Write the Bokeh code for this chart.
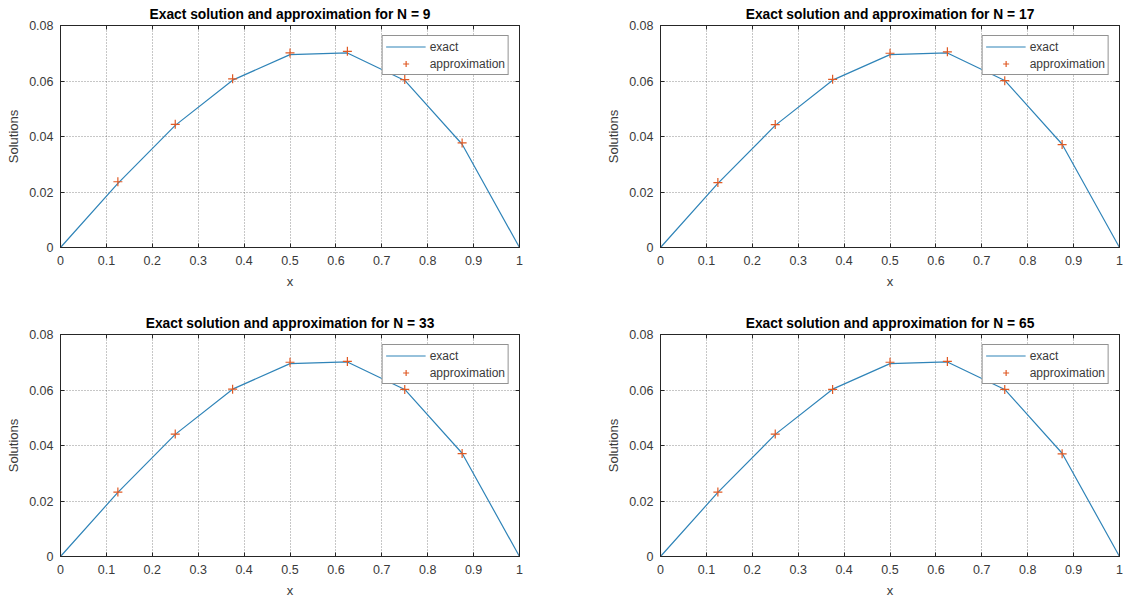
from bokeh.plotting import figure
from bokeh.layouts import column, row
from bokeh.models import LinearAxis, Range1d, FixedTicker, Legend, LegendItem
from bokeh.embed import file_html
from bokeh.resources import INLINE

x_nodes = [0, 0.125, 0.25, 0.375, 0.5, 0.625, 0.75, 0.875, 1.0]
exact = [0, 0.0231, 0.0440, 0.0603, 0.0695, 0.0701, 0.0602, 0.0372, 0]
approx_N9 = [0, 0.0237, 0.0444, 0.0608, 0.0701, 0.0707, 0.0605, 0.0377, 0]
approx_N17 = [0, 0.0234, 0.0443, 0.0606, 0.0700, 0.0705, 0.0601, 0.0371, 0]
approx_N33 = [0, 0.0232, 0.0441, 0.0603, 0.0700, 0.0703, 0.0602, 0.0371, 0]
approx_N65 = [0, 0.0232, 0.0441, 0.0602, 0.0700, 0.0703, 0.0602, 0.0370, 0]
N_values = [9, 17, 33, 65]
x_ticks = [0, 0.1, 0.2, 0.3, 0.4, 0.5, 0.6, 0.7, 0.8, 0.9, 1.0]
x_tick_labels = {0: "0", 0.1: "0.1", 0.2: "0.2", 0.3: "0.3", 0.4: "0.4", 0.5: "0.5",
                 0.6: "0.6", 0.7: "0.7", 0.8: "0.8", 0.9: "0.9", 1.0: "1"}
y_ticks = [0, 0.02, 0.04, 0.06, 0.08]
y_tick_labels = {0: "0", 0.02: "0.02", 0.04: "0.04", 0.06: "0.06", 0.08: "0.08"}

FONT = "Liberation Sans"
LINE_C = "#2f84b8"
MARK_C = "#e05a24"
AX_C = "#262626"
LBL_C = "#3a3a3a"


def style_axis(ax, show_labels=True):
    ax.axis_line_color = AX_C
    ax.major_tick_line_color = AX_C
    ax.minor_tick_line_color = None
    ax.major_tick_in = 4
    ax.major_tick_out = 0
    ax.major_label_text_font = FONT
    ax.major_label_text_font_size = "12.5px"
    ax.major_label_text_color = LBL_C
    ax.axis_label_text_font = FONT
    ax.axis_label_text_font_size = "13px"
    ax.axis_label_text_font_style = "normal"
    ax.axis_label_text_color = LBL_C
    if not show_labels:
        ax.major_label_text_alpha = 0
        ax.major_label_text_font_size = "0px"


def make(N, approx, width, height, bl, br, bt, bb):
    p = figure(width=width, height=height, output_backend="svg", toolbar_location=None,
               x_range=Range1d(0, 1), y_range=Range1d(0, 0.08),
               min_border_left=bl, min_border_right=br, min_border_top=bt, min_border_bottom=bb)
    p.title.text = f"Exact solution and approximation for N = {N}"
    p.title.align = "center"
    p.title.text_font = FONT
    p.title.text_font_size = "13.8px"
    p.title.text_font_style = "bold"
    p.title.text_color = "#000000"
    p.title.offset = 0
    p.title.standoff = 7
    p.outline_line_color = AX_C
    p.background_fill_color = "white"
    p.border_fill_color = "white"

    p.xaxis.ticker = FixedTicker(ticks=x_ticks)
    p.xaxis.major_label_overrides = x_tick_labels
    p.yaxis.ticker = FixedTicker(ticks=y_ticks)
    p.yaxis.major_label_overrides = y_tick_labels
    p.xaxis.axis_label = "x"
    p.yaxis.axis_label = "Solutions"
    style_axis(p.xaxis[0])
    style_axis(p.yaxis[0])
    p.xaxis.axis_label_standoff = 6
    p.yaxis.axis_label_standoff = 5
    p.xaxis.major_label_standoff = 8
    p.yaxis.major_label_standoff = 7

    top = LinearAxis(ticker=FixedTicker(ticks=x_ticks))
    style_axis(top, False)
    right = LinearAxis(ticker=FixedTicker(ticks=y_ticks))
    style_axis(right, False)
    p.add_layout(top, "above")
    p.add_layout(right, "right")

    for g in (p.xgrid, p.ygrid):
        g.grid_line_color = "#444444"
        g.grid_line_alpha = 0.6
        g.grid_line_dash = "1 2"
        g.grid_line_width = 1
    p.xgrid.ticker = FixedTicker(ticks=x_ticks)
    p.ygrid.ticker = FixedTicker(ticks=y_ticks)

    r1 = p.line(x_nodes, exact, line_color=LINE_C, line_width=1.2)
    r2 = p.scatter(x_nodes, approx, marker="cross", size=9, line_color=MARK_C, line_width=1.2)

    leg = Legend(items=[LegendItem(label="exact", renderers=[r1]),
                        LegendItem(label="approximation", renderers=[r2])],
                 location="top_right")
    leg.border_line_color = AX_C
    leg.border_line_width = 1
    leg.background_fill_alpha = 1
    leg.label_text_font = FONT
    leg.label_text_font_size = "12px"
    leg.label_text_color = LBL_C
    leg.glyph_width = 40
    leg.glyph_height = 15
    leg.label_height = 15
    leg.spacing = 2
    leg.padding = 3
    leg.margin = 10
    leg.label_standoff = 4
    p.add_layout(leg)
    return p


p1 = make(N_values[0], approx_N9, 565, 301, 60, 46, 25, 54)
p2 = make(N_values[1], approx_N17, 565, 301, 95, 11, 25, 54)
p3 = make(N_values[2], approx_N33, 565, 300, 60, 46, 33, 45)
p4 = make(N_values[3], approx_N65, 565, 300, 95, 11, 33, 45)

layout = column(row(p1, p2, spacing=0), row(p3, p4, spacing=0), spacing=0)
open("out.html", "w").write(file_html(layout, INLINE))
